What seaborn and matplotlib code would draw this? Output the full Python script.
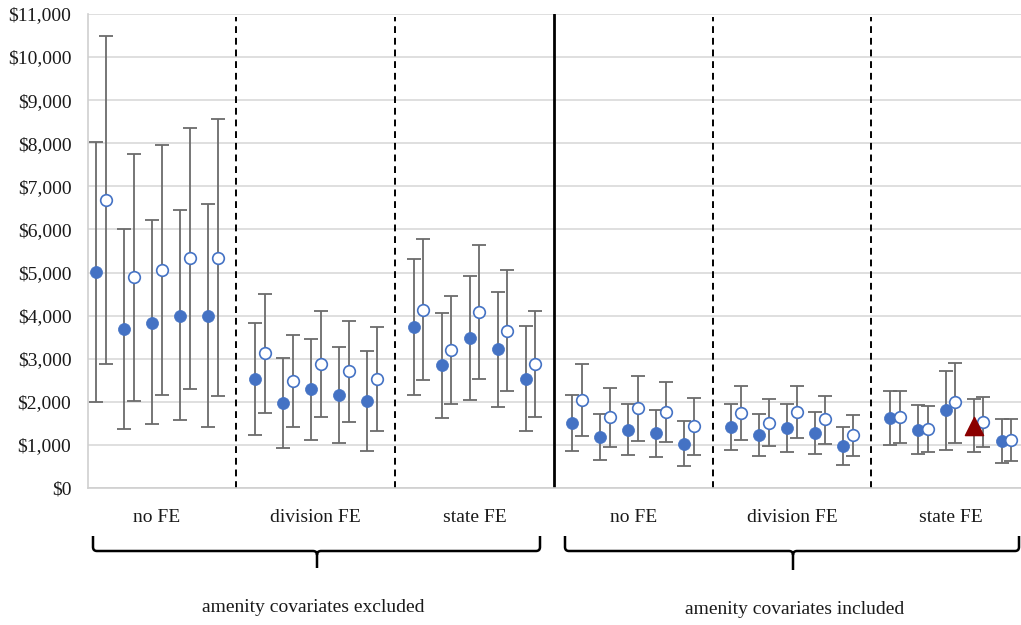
import numpy as np
import pandas as pd
import seaborn as sns
import matplotlib.pyplot as plt
from matplotlib.path import Path
from matplotlib.patches import PathPatch

# category labels
groups = ["no FE", "division FE", "state FE", "no FE", "division FE", "state FE"]
panels = ["amenity covariates excluded", "amenity covariates included"]

# filled series (point estimate, lower, upper), 5 per group
filled_mid = [5020, 3680, 3840, 4000, 4000,
              2530, 1970, 2290, 2160, 2020,
              3730, 2850, 3490, 3220, 2540,
              1500, 1180, 1350, 1270, 1010,
              1420, 1220, 1400, 1280, 980,
              1630, 1350, 1800, 1450, 1080]
filled_lo = [2000, 1360, 1490, 1570, 1420,
             1220, 920, 1120, 1040, 860,
             2160, 1630, 2050, 1870, 1320,
             860, 650, 760, 730, 510,
             880, 740, 840, 790, 540,
             990, 780, 880, 840, 580]
filled_hi = [8030, 6010, 6210, 6450, 6600,
             3830, 3020, 3450, 3280, 3190,
             5310, 4070, 4920, 4550, 3750,
             2150, 1710, 1940, 1810, 1550,
             1960, 1710, 1950, 1760, 1420,
             2260, 1920, 2720, 2070, 1610]

# open series
open_mid = [6690, 4890, 5060, 5330, 5330,
            3130, 2480, 2880, 2710, 2540,
            4140, 3200, 4090, 3650, 2880,
            2050, 1640, 1860, 1760, 1440,
            1740, 1510, 1770, 1590, 1230,
            1650, 1380, 1990, 1530, 1110]
open_lo = [2880, 2020, 2150, 2300, 2130,
           1740, 1410, 1650, 1540, 1330,
           2500, 1940, 2530, 2240, 1650,
           1210, 960, 1100, 1060, 770,
           1110, 970, 1160, 1030, 750,
           1050, 835, 1040, 950, 620]
open_hi = [10500, 7760, 7950, 8360, 8560,
           4510, 3550, 4110, 3880, 3740,
           5770, 4450, 5640, 5060, 4110,
           2880, 2310, 2610, 2470, 2100,
           2370, 2060, 2370, 2130, 1690,
           2260, 1910, 2910, 2120, 1600]

# which filled point is the highlighted triangle
highlight = 28

n_per = 5
step = 5.67
off = 0.35

grp = np.repeat(np.arange(len(groups)), n_per)
sub = np.tile(np.arange(n_per), len(groups))
x_f = grp * step + sub
x_o = x_f + off

df = pd.DataFrame({"x": np.concatenate([x_f, x_o]),
                   "mid": filled_mid + open_mid,
                   "lo": filled_lo + open_lo,
                   "hi": filled_hi + open_hi,
                   "kind": ["filled"] * len(x_f) + ["open"] * len(x_o)})
df["hl"] = False
df.loc[highlight, "hl"] = True

sns.set_theme(style="whitegrid")
plt.rcParams['font.family'] = ['Liberation Serif', 'DejaVu Serif']

W, H = 1021, 625
fig = plt.figure(figsize=(W / 100, H / 100), dpi=100)
ax = fig.add_axes([88 / W, 1 - 488 / H, (W - 88) / W, (488 - 14) / H])

blue = "#4472C4"

# error bars
ax.errorbar(df["x"], df["mid"], yerr=[df["mid"] - df["lo"], df["hi"] - df["mid"]],
            fmt="none", ecolor="#6b6b6b", elinewidth=1.3, capsize=5, capthick=1.3, zorder=2)

f = df[(df["kind"] == "filled") & (~df["hl"])]
o = df[df["kind"] == "open"]
h = df[df["hl"]]
sns.scatterplot(data=f, x="x", y="mid", ax=ax, color=blue, s=75, edgecolor=blue,
                linewidth=0.5, zorder=3, legend=False)
sns.scatterplot(data=o, x="x", y="mid", ax=ax, facecolor="white", edgecolor=blue,
                s=70, linewidth=1.2, zorder=3, legend=False)
sns.scatterplot(data=h, x="x", y="mid", ax=ax, marker="^", color="#8B0000", s=170,
                edgecolor="#8B0000", zorder=4, legend=False)

# separators between groups
bounds = np.arange(len(groups) - 1) * step + (n_per - 1 + off + step) / 2
for i, b in enumerate(bounds):
    if i == 2:
        ax.axvline(b, color="black", lw=2, zorder=1)
    else:
        ax.axvline(b, color="black", lw=1.4, ls=(0, (3.5, 2.5)), ymax=0.993, zorder=1)

ax.set_xlim(-0.29, 33.04)
ax.set_ylim(0, 11000)
ax.set_yticks(np.arange(0, 11001, 1000))
ax.yaxis.set_major_formatter(plt.FuncFormatter(lambda v, p: f"${v:,.0f}"))
centers = np.arange(len(groups)) * step + (n_per - 1 + off) / 2
ax.set_xticks(centers)
ax.set_xticklabels(groups)
ax.tick_params(axis="y", length=0, pad=12, labelsize=14, labelcolor="#1a1a1a")
ax.tick_params(axis="x", length=0, pad=15, labelsize=14, labelcolor="#1a1a1a")
ax.set_xlabel("")
ax.set_ylabel("")
ax.grid(axis="x", visible=False)
ax.grid(axis="y", color="#d9d9d9", lw=1.2)
for s in ["top", "right"]:
    ax.spines[s].set_visible(False)
for s in ["left", "bottom"]:
    ax.spines[s].set_color("#cfcfcf")
    ax.spines[s].set_linewidth(1.2)


# curly braces below the axis (pixel coordinates -> figure fraction)
def brace(x0, x1, xm, ytop, ybot, ytip, r=4):
    pts = [(x0, ytop), (x0, ybot - r), (x0, ybot), (x0 + r, ybot),
           (xm - r, ybot), (xm, ybot), (xm, ybot + r), (xm, ytip),
           (xm, ybot + r), (xm, ybot), (xm + r, ybot),
           (x1 - r, ybot), (x1, ybot), (x1, ybot - r), (x1, ytop)]
    codes = [Path.MOVETO, Path.LINETO, Path.CURVE3, Path.CURVE3,
             Path.LINETO, Path.CURVE3, Path.CURVE3, Path.LINETO,
             Path.MOVETO, Path.CURVE3, Path.CURVE3,
             Path.LINETO, Path.CURVE3, Path.CURVE3, Path.LINETO]
    verts = [(px / W, 1 - py / H) for px, py in pts]
    fig.add_artist(PathPatch(Path(verts, codes), fill=False, lw=1.8,
                             edgecolor="black", transform=fig.transFigure))


brace(93, 540, 317, 536, 551, 568)
brace(565, 1019, 793, 536, 551, 570)

fig.text(313 / W, 1 - 608 / H, panels[0], ha="center", va="center", fontsize=14, color="#1a1a1a")
fig.text(795 / W, 1 - 610 / H, panels[1], ha="center", va="center", fontsize=14, color="#1a1a1a")

fig.savefig("out.png", dpi=100)
